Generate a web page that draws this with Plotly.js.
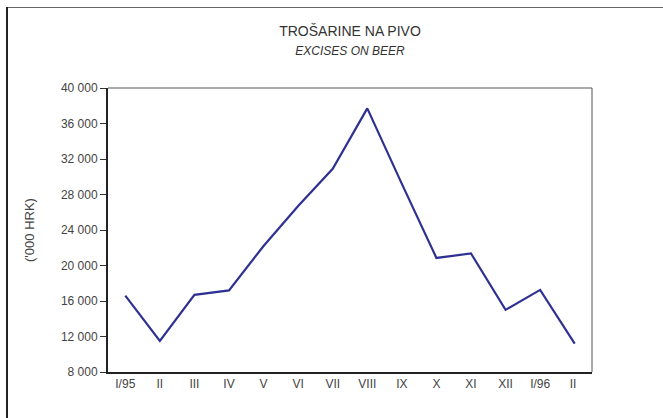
<!DOCTYPE html>
<html>
<head>
<meta charset="utf-8">
<script src="https://cdn.plot.ly/plotly-3.0.1.min.js"></script>
<style>
html,body{margin:0;padding:0;background:#fff;}
#wrap{position:relative;width:663px;height:418px;}
#chart{position:absolute;left:0;top:0;width:663px;height:418px;}
#topline{position:absolute;left:6px;top:7px;width:657px;height:0;border-top:1.5px solid #666;}
#leftline{position:absolute;left:6px;top:7px;width:0;height:411px;border-left:2px solid #222;}
</style>
</head>
<body>
<div id="wrap">
<div id="chart"></div>
<div id="topline"></div>
<div id="leftline"></div>
</div>
<script>
const months = ['I/95','II','III','IV','V','VI','VII','VIII','IX','X','XI','XII','I/96','II '];
const excises = [16600, 11500, 16700, 17200, 22200, 26700, 30900, 37700, 29200, 20850, 21350, 15000, 17250, 11200];
const yTicks = [8000, 12000, 16000, 20000, 24000, 28000, 32000, 36000, 40000];
const yTickText = ['8 000','12 000','16 000','20 000','24 000','28 000','32 000','36 000','40 000'];

const trace = {
  x: months.map((m, i) => i),
  y: excises,
  type: 'scatter',
  mode: 'lines',
  line: {color: '#2e3192', width: 2.2},
  hoverinfo: 'skip'
};

const layout = {
  width: 663, height: 418,
  margin: {l: 108, r: 71, t: 88, b: 46},
  paper_bgcolor: '#fff', plot_bgcolor: '#fff',
  showlegend: false,
  font: {family: 'Liberation Sans, Arial, sans-serif', color: '#333', size: 12},
  title: {text: 'TROŠARINE NA PIVO<br><span style="font-size:12px"><i>EXCISES ON BEER</i></span>',
          x: 0.5, xref: 'paper', y: 0.913, yref: 'container', yanchor: 'top',
          font: {size: 14, color: '#333'}},
  xaxis: {
    range: [-0.5, 13.5],
    tickvals: months.map((m, i) => i),
    ticktext: months,
    ticks: '', showgrid: false, zeroline: false,
    showline: true, linecolor: '#222', linewidth: 2,
    tickfont: {size: 12, color: '#444'},
    fixedrange: true
  },
  yaxis: {
    range: [8000, 40000],
    tickvals: yTicks, ticktext: yTickText,
    ticks: 'outside', ticklen: 6, tickwidth: 1, tickcolor: '#333',
    showgrid: false, zeroline: false,
    showline: true, linecolor: '#222', linewidth: 2,
    tickfont: {size: 12, color: '#444'},
    title: {text: "('000 HRK)", font: {size: 13, color: '#444'}, standoff: 23},
    fixedrange: true
  },
  shapes: [
    {type: 'line', xref: 'paper', yref: 'paper', x0: 0, x1: 1, y0: 1, y1: 1, line: {color: '#555', width: 1}},
    {type: 'line', xref: 'paper', yref: 'paper', x0: 1, x1: 1, y0: 0, y1: 1, line: {color: '#555', width: 1}}
  ]
};

Plotly.newPlot('chart', [trace], layout, {displayModeBar: false, staticPlot: true});
</script>
</body>
</html>
